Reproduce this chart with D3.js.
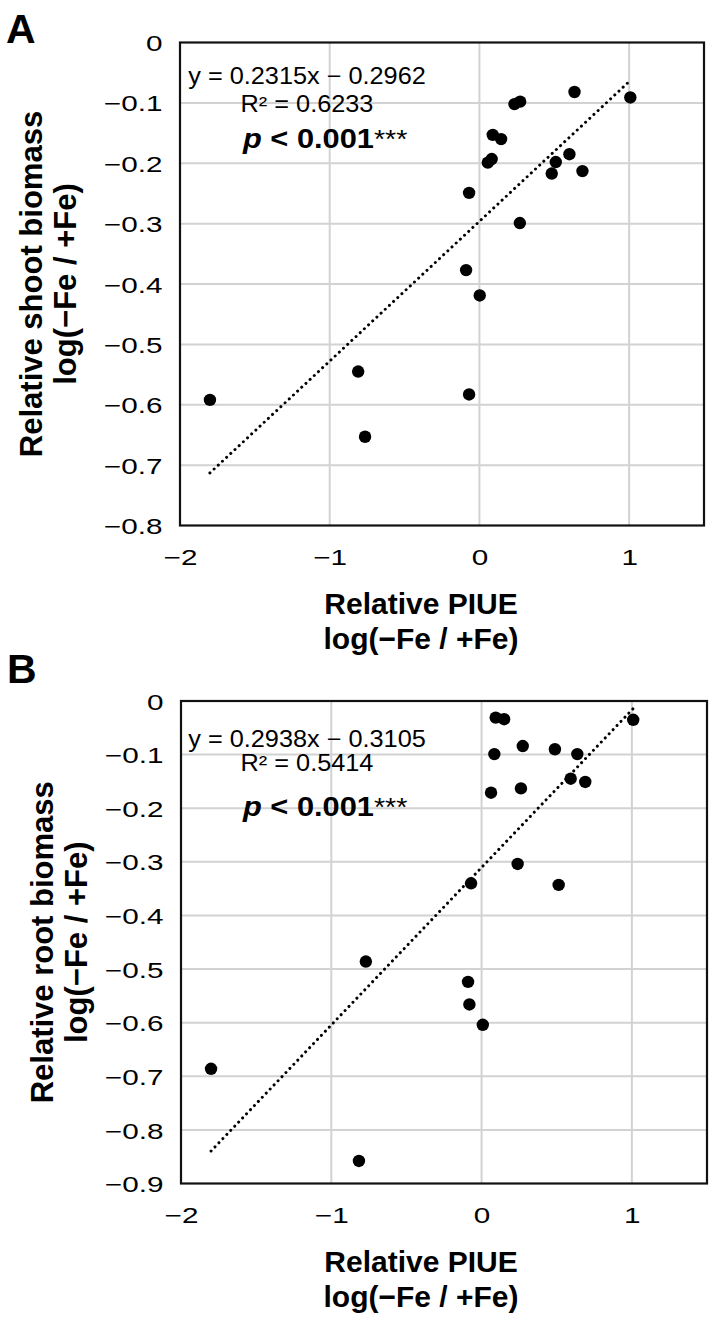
<!DOCTYPE html>
<html>
<head>
<meta charset="utf-8">
<script src="https://cdn.jsdelivr.net/npm/d3@7"></script>
<style>
body{margin:0;background:#fff;}
svg text{font-family:'Liberation Sans',Arial,sans-serif;fill:#000;}
.tick text{font-size:22.5px;}
.axisTitle{font-size:30px;font-weight:bold;}
.yTitle{font-size:31px;font-weight:bold;}
.panelLetter{font-size:41px;font-weight:bold;}
</style>
</head>
<body>
<script>
//Data
var piueA = [-1.80,-0.81,-0.764,-0.089,-0.069,-0.069,0.002,0.056,0.082,0.089,0.145,0.234,0.27,0.272,0.483,0.51,0.601,0.635,0.688,1.008];
var shootBiomass = [-0.592,-0.545,-0.653,-0.377,-0.249,-0.583,-0.419,-0.199,-0.193,-0.153,-0.160,-0.102,-0.299,-0.098,-0.217,-0.198,-0.185,-0.082,-0.213,-0.091];
var piueB = [-1.80,-0.816,-0.77,-0.09,-0.081,-0.07,0.008,0.063,0.085,0.094,0.15,0.24,0.262,0.274,0.488,0.513,0.593,0.637,0.69,1.009];
var rootBiomass = [-0.686,-0.858,-0.486,-0.524,-0.566,-0.340,-0.604,-0.171,-0.099,-0.031,-0.034,-0.304,-0.163,-0.084,-0.090,-0.343,-0.145,-0.099,-0.151,-0.035];

var xTicks = [-2,-1,0,1];
var xDomain = [-2,1.5];
var yTicksA = [0,-0.1,-0.2,-0.3,-0.4,-0.5,-0.6,-0.7,-0.8];
var yTicksB = [0,-0.1,-0.2,-0.3,-0.4,-0.5,-0.6,-0.7,-0.8,-0.9];

var fitA = {slope:0.2315, intercept:-0.2962, r2:'0.6233', p:'0.001'};
var fitB = {slope:0.2938, intercept:-0.3105, r2:'0.5414', p:'0.001'};

var xTitle = ['Relative PIUE','log(\u2212Fe / +Fe)'];

var svg = d3.select('body').append('svg').attr('width',716).attr('height',1325);

function buildPanel(cfg) {
	var xScale = d3.scaleLinear().domain(xDomain).range([cfg.left,cfg.right]);
	var yScale = d3.scaleLinear().domain(d3.extent(cfg.yTicks)).range([cfg.bottom,cfg.top]);
	var g = svg.append('g').attr('id','panel'+cfg.letter);

	//Grid
	g.append('g').selectAll('line').data(cfg.yTicks.slice(1,-1)).enter()
		.append('line')
		.attr('x1',cfg.left).attr('x2',cfg.right)
		.attr('y1',function(d){return yScale(d);})
		.attr('y2',function(d){return yScale(d);})
		.attr('stroke','#d2d2d2').attr('stroke-width',2);
	g.append('g').selectAll('line').data(xTicks.slice(1)).enter()
		.append('line')
		.attr('x1',function(d){return xScale(d);})
		.attr('x2',function(d){return xScale(d);})
		.attr('y1',cfg.top).attr('y2',cfg.bottom)
		.attr('stroke','#d2d2d2').attr('stroke-width',2);

	//Frame
	g.append('rect').attr('x',cfg.left).attr('y',cfg.top)
		.attr('width',cfg.right-cfg.left).attr('height',cfg.bottom-cfg.top)
		.attr('fill','none').attr('stroke','#111').attr('stroke-width',2.2);

	//Axes (labels only)
	var yAxis = d3.axisLeft(yScale).tickValues(cfg.yTicks).tickSize(0).tickPadding(13.3).tickFormat(d3.format('.1~f'));
	var yAxisG = g.append('g').attr('transform','translate('+cfg.left+',0)').call(yAxis);
	yAxisG.select('.domain').remove();
	yAxisG.selectAll('text').attr('dy','0.36em').attr('transform','scale(1.32,1)');

	var xAxis = d3.axisBottom(xScale).tickValues(xTicks).tickSize(0).tickPadding(23.5).tickFormat(d3.format('d'));
	var xAxisG = g.append('g').attr('transform','translate(0,'+cfg.bottom+')').call(xAxis);
	xAxisG.select('.domain').remove();
	xAxisG.selectAll('text').attr('transform','scale(1.32,1)');
	g.selectAll('.tick text').attr('font-family',null).attr('font-size',null);

	//Regression line
	var xr = d3.extent(cfg.x);
	var fitPts = xr.map(function(v){return [v, cfg.fit.slope*v+cfg.fit.intercept];});
	g.append('path').datum(fitPts)
		.attr('d',d3.line().x(function(d){return xScale(d[0]);}).y(function(d){return yScale(d[1]);}))
		.attr('fill','none').attr('stroke','#000').attr('stroke-width',3)
		.attr('stroke-linecap','round').attr('stroke-dasharray','0.01,5.7');

	//Points
	g.append('g').selectAll('circle').data(cfg.x).enter()
		.append('circle')
		.attr('cx',function(d){return xScale(d);})
		.attr('cy',function(d,i){return yScale(cfg.y[i]);})
		.attr('r',6.2)
		.attr('fill','#000');

	//Equation text
	var eq = 'y = '+cfg.fit.slope.toFixed(4)+'x \u2212 '+Math.abs(cfg.fit.intercept).toFixed(4);
	g.append('text').attr('transform','translate(307,'+cfg.eqY+') scale(1.1,1)')
		.attr('text-anchor','middle').style('font-size','23px').text(eq);
	g.append('text').attr('transform','translate(307,'+cfg.r2Y+') scale(1.1,1)')
		.attr('text-anchor','middle').style('font-size','23px').text('R\u00b2 = '+cfg.fit.r2);
	var pText = g.append('text').attr('transform','translate(243,'+cfg.pY+') scale(1.1,1)')
		.style('font-size','28px').style('font-weight','bold');
	pText.append('tspan').style('font-style','italic').text('p');
	pText.append('tspan').text(' < '+cfg.fit.p);
	pText.append('tspan').style('font-weight','normal').style('font-size','26px').text('***');

	//Axis titles
	g.selectAll('.xt').data(xTitle).enter()
		.append('text').attr('class','axisTitle')
		.attr('x',421)
		.attr('y',function(d,i){return cfg.bottom+88.5+i*34.5;})
		.attr('text-anchor','middle')
		.text(function(d){return d;});
	var cy = (cfg.top+cfg.bottom)/2;
	g.selectAll('.yt').data(cfg.yTitle).enter()
		.append('text').attr('class','yTitle')
		.attr('transform',function(d,i){return 'translate('+cfg.yTitleX[i]+','+cy+') rotate(-90)';})
		.attr('text-anchor','middle')
		.text(function(d){return d;});

	g.append('text').attr('class','panelLetter').attr('x',cfg.letterX).attr('y',cfg.letterY).text(cfg.letter);
}

buildPanel({letter:'A', letterX:6, letterY:43, x:piueA, y:shootBiomass, yTicks:yTicksA, fit:fitA,
	left:180, right:704, top:42.5, bottom:525.5, eqY:84, r2Y:112, pY:148,
	yTitle:['Relative shoot biomass','log(\u2212Fe / +Fe)'], yTitleX:[41.7,76]});

buildPanel({letter:'B', letterX:7, letterY:683, x:piueB, y:rootBiomass, yTicks:yTicksB, fit:fitB,
	left:181, right:707, top:701, bottom:1183.5, eqY:746.5, r2Y:770.5, pY:815.5,
	yTitle:['Relative root biomass','log(\u2212Fe / +Fe)'], yTitleX:[53,87]});
</script>
</body>
</html>
